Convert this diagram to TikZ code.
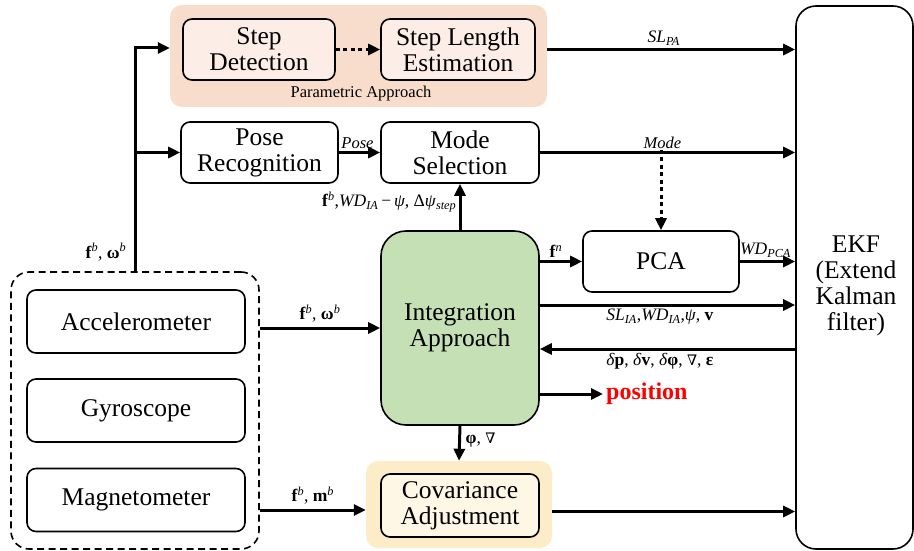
\documentclass[tikz,border=0pt]{standalone}
\usepackage{fontspec}
\setmainfont{Liberation Serif}
\newfontfamily\symf{DejaVu Serif}
\usetikzlibrary{arrows.meta}
\definecolor{peachbg}{RGB}{249,221,204}
\definecolor{peachbox}{RGB}{252,238,230}
\definecolor{greenbox}{RGB}{197,224,180}
\definecolor{yellowbg}{RGB}{253,236,200}
\definecolor{yellowbox}{RGB}{255,247,230}
\newcommand\lsub[1]{\textsubscript{\textit{#1}}}
\newcommand\lsup[1]{\textsuperscript{\textit{#1}}}
\newcommand\nab{{\symf\fontsize{14.5}{16}\selectfont ∇}}
\begin{document}
\begin{tikzpicture}[x=1pt,y=-1pt,
  box/.style={draw, line width=1.6pt, rounded corners=9pt, align=center,
    font=\fontsize{25.5}{26}\selectfont, inner sep=0pt},
  bg/.style={draw=none, rounded corners=12pt, inner sep=0pt},
  arr/.style={line width=3pt, -{Triangle[length=12pt,width=11pt]}},
  dotarr/.style={arr, dash pattern=on 4pt off 3.5pt},
  lab/.style={font=\fontsize{17.5}{19}\selectfont, inner sep=1.5pt},
  slab/.style={font=\fontsize{16.5}{18}\selectfont, inner sep=1.5pt}]
\useasboundingbox (0,0) rectangle (914,551);

% backgrounds
\node[bg, fill=peachbg, minimum width=377pt, minimum height=102pt] (pbg) at (358.5,56) {};
\node[bg, fill=yellowbg, minimum width=186pt, minimum height=87pt] (cbg) at (459,504.5) {};

% boxes
\node[box, fill=peachbox, minimum width=152pt, minimum height=61pt] (sd) at (259,49.5) {Step\\Detection};
\node[box, fill=peachbox, minimum width=154pt, minimum height=61pt] (sle) at (458,49.5) {Step Length\\Estimation};
\node[font=\fontsize{16.5}{18}\selectfont, inner sep=0pt] (pal) at (361,94) {Parametric Approach};

\node[box, minimum width=157pt, minimum height=61pt] (pr) at (259.5,152.5) {Pose\\Recognition};
\node[box, minimum width=158pt, minimum height=61pt] (ms) at (460,152.5) {Mode\\Selection};

\node[box, fill=greenbox, rounded corners=25pt, minimum width=158pt, minimum height=194pt] (ia) at (460,328) {Integration\\Approach};
\node[box, minimum width=156pt, minimum height=61pt] (pca) at (661,261.5) {PCA};
\node[box, fill=yellowbox, minimum width=158pt, minimum height=63pt] (ca) at (460,505.5) {Covariance\\Adjustment};

\node[box, rounded corners=20pt, minimum width=117pt, minimum height=543pt] (ekf) at (854.5,277.5) {};
\node[align=center, font=\fontsize{25.5}{26}\selectfont, inner sep=0pt] (ekft) at (856,286) {EKF\\(Extend\\Kalman\\filter)};

\node[box, dashed, dash pattern=on 7pt off 4.5pt, rounded corners=18pt, minimum width=248pt, minimum height=277pt] (sens) at (135,410.5) {};
\node[box, minimum width=218pt, minimum height=63pt] (acc) at (136,321.5) {Accelerometer};
\node[box, minimum width=218pt, minimum height=63pt] (gyr) at (136,410.5) {Gyroscope};
\node[box, minimum width=218pt, minimum height=63pt] (mag) at (136,500) {Magnetometer};

% connectors: left trunk
\coordinate (top) at (135,48);
\coordinate (br) at (sens.north |- pr.west);
\draw[line width=3pt] (sens.north) -- (top);
\draw[arr] ([xshift=-1.5pt]top) -- (top -| pbg.west);
\draw[arr] (br) -- (pr.west);
\node[lab, anchor=east] (l1) at (128,252) {\textbf{f}\lsup{b}, \textbf{ω}\lsup{b}};

% parametric
\draw[dotarr] (sd.east) -- (sle.west);
\draw[arr] (sle.east -| pbg.east) -- (sle.east -| ekf.west)
  node[lab, pos=0.47, above, yshift=1pt] {\textit{SL}\lsub{PA}};

% pose / mode
\draw[arr] (pr.east) -- (ms.west) node[slab, midway, above, yshift=1pt, xshift=-2pt] {\textit{Pose}};
\draw[arr] (ms.east) -- (ms.east -| ekf.west) node[slab, pos=0.48, above, yshift=1pt] {\textit{Mode}};
\draw[dotarr] ([yshift=3pt]pca.north |- ms.east) -- (pca.north);

% integration up
\draw[arr] (ia.north) -- (ms.south);
\node[lab, anchor=east] (l2) at (458,202) {\textbf{f}\lsup{b},\textit{WD}\lsub{IA}\,−\,\textit{ψ}, Δ\textit{ψ}\lsub{step}};

% integration to right
\draw[arr] (ia.east |- pca.west) -- (pca.west) node[lab, midway, above, xshift=-5pt, yshift=1pt] {\textbf{f}\lsup{n}};
\draw[arr] (pca.east) -- (pca.east -| ekf.west) node[lab, midway, above, yshift=1pt, xshift=-2pt] {\textit{WD}\lsub{PCA}};
\draw[arr] ([yshift=23pt]ia.east) -- ([yshift=23pt]ia.east -| ekf.west)
  node[lab, pos=0.47, below, yshift=-1pt] {\textit{SL}\lsub{IA},\textit{WD}\lsub{IA},\textit{ψ}, \textbf{v}};
\draw[arr] ([yshift=-21pt]ia.east -| ekf.west) -- ([yshift=-21pt]ia.east)
  node[lab, pos=0.53, below, yshift=-1pt] {\textit{δ}\textbf{p}, \textit{δ}\textbf{v}, \textit{δ}\textbf{φ}, \nab, \textbf{ε}};
\node[anchor=west, text=red, font=\bfseries\fontsize{24}{26}\selectfont, inner sep=3pt] (pos) at (603,394) {position};
\draw[arr] ([yshift=-66pt]ia.east) -- (pos.west);

% integration down
\draw[arr] (ia.south) -- (cbg.north);
\node[lab, anchor=west] (l3) at (464,440) {\textbf{φ}, \nab};

% covariance to ekf
\draw[arr] ([yshift=-7pt]cbg.east) -- ([yshift=-7pt]cbg.east -| ekf.west);

% sensors
\draw[arr] (sens.east |- ia.west) -- (ia.west) node[lab, midway, above, yshift=3pt] {\textbf{f}\lsup{b}, \textbf{ω}\lsup{b}};
\path (cbg.west) ++(0,5.5) coordinate (cin);
\draw[arr] (cin -| sens.east) -- (cin) node[lab, midway, above, yshift=3pt] {\textbf{f}\lsup{b}, \textbf{m}\lsup{b}};
\end{tikzpicture}
\end{document}
